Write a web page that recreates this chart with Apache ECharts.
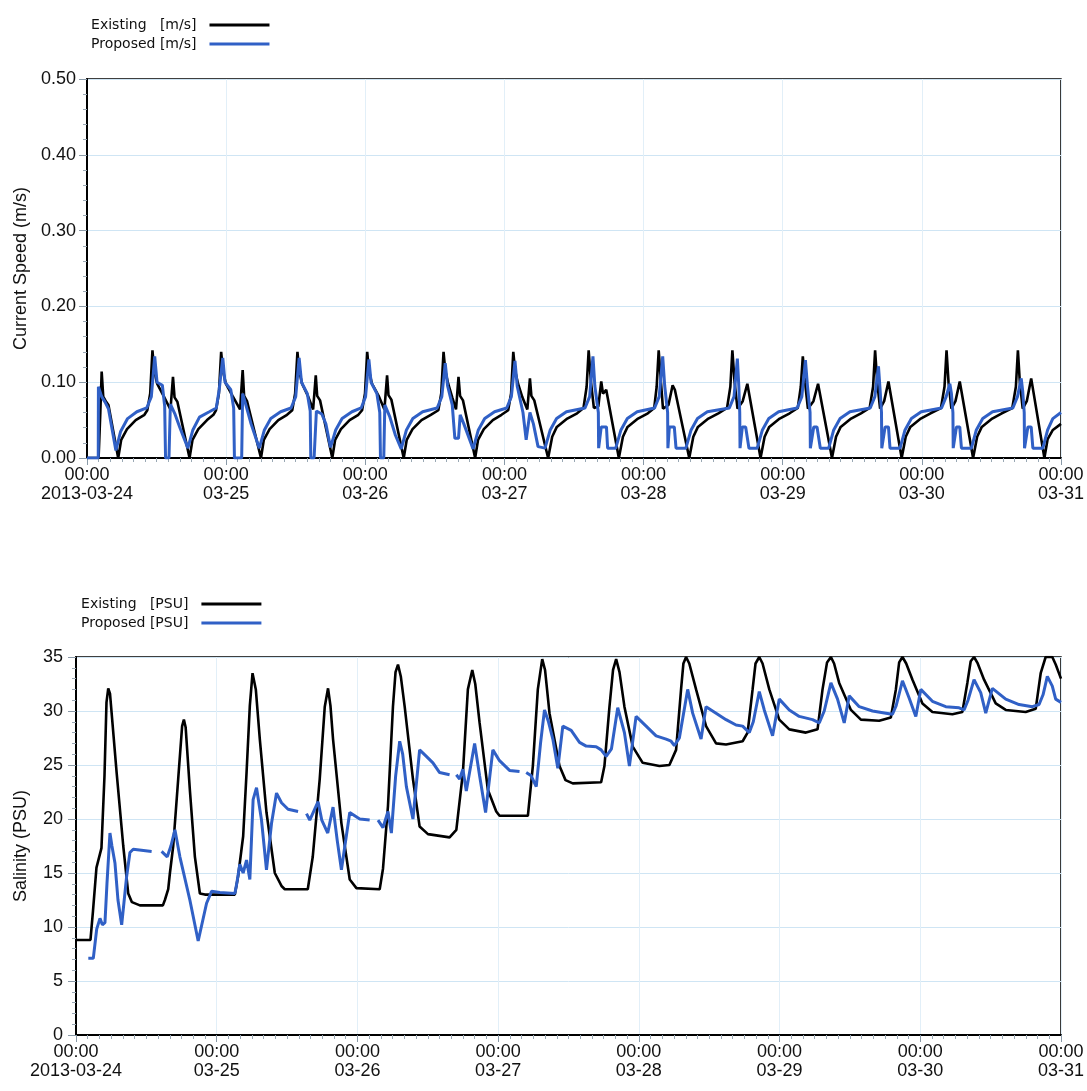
<!DOCTYPE html>
<html>
<head>
<meta charset="utf-8">
<title>Current speed and salinity, existing vs proposed</title>
<script src="https://cdn.jsdelivr.net/npm/echarts@6/dist/echarts.min.js"></script>
<style>
  html, body { margin: 0; padding: 0; background: #fff; }
  #chart { width: 1087px; height: 1091px; }
</style>
</head>
<body>
<div id="chart"></div>
<script>
// x values are hours after 2013-03-24 00:00
var dayLabels = ['2013-03-24', '03-25', '03-26', '03-27', '03-28', '03-29', '03-30', '03-31'];

var speedExisting = [
  [0,0],[2.0,0],[2.3,0.06],[2.53,0.114],[2.8,0.081],[3.3,0.074],[3.7,0.070],[5.38,0],
  [5.9,0.024],[6.9,0.038],[8.4,0.050],[9.9,0.057],[10.4,0.063],[10.9,0.085],[11.29,0.142],[11.6,0.115],[12.1,0.098],[13.2,0.082],[14.4,0.064],[14.83,0.107],[15.1,0.080],[15.6,0.074],[17.69,0],
  [18.2,0.024],[19.2,0.038],[20.7,0.050],[21.8,0.057],[22.25,0.063],[22.75,0.085],[23.14,0.140],[23.45,0.115],[23.95,0.098],[25.1,0.082],[26.4,0.064],[26.85,0.116],[27.1,0.082],[27.6,0.075],[30.01,0],
  [30.5,0.024],[31.5,0.038],[33.0,0.050],[34.5,0.057],[35.4,0.063],[35.9,0.085],[36.30,0.140],[36.6,0.115],[37.1,0.098],[38.1,0.082],[39.0,0.064],[39.46,0.109],[39.7,0.082],[40.2,0.076],[42.31,0],
  [42.8,0.024],[43.8,0.038],[45.3,0.050],[46.8,0.057],[47.45,0.063],[47.95,0.085],[48.33,0.140],[48.65,0.115],[49.15,0.098],[50.3,0.082],[51.3,0.064],[51.76,0.109],[52.0,0.083],[52.5,0.077],[54.63,0],
  [55.15,0.024],[56.15,0.038],[57.7,0.050],[59.3,0.057],[60.6,0.063],[61.1,0.085],[61.50,0.140],[61.8,0.115],[62.3,0.098],[63.0,0.080],[63.65,0.064],[64.08,0.107],[64.35,0.082],[64.85,0.076],[66.95,0],
  [67.45,0.024],[68.45,0.038],[70.0,0.050],[71.5,0.057],[72.65,0.063],[73.15,0.085],[73.53,0.140],[73.85,0.115],[74.35,0.098],[75.1,0.080],[75.95,0.064],[76.40,0.105],[76.65,0.082],[77.15,0.076],[79.54,0],
  [80.24,0.028],[81.04,0.041],[82.84,0.052],[84.54,0.059],[85.64,0.066],[86.18,0.094],[86.53,0.142],[86.93,0.100],[87.43,0.066],[88.2,0.068],[88.7,0.101],[89.0,0.085],[89.56,0.090],[91.74,0],
  [92.44,0.028],[93.24,0.041],[95.04,0.052],[96.74,0.059],[97.84,0.066],[98.26,0.094],[98.61,0.142],[99.0,0.100],[99.35,0.065],[100.3,0.070],[101.01,0.096],[101.4,0.090],[103.88,0],
  [104.58,0.028],[105.38,0.041],[107.18,0.052],[108.9,0.059],[110.4,0.066],[110.97,0.094],[111.32,0.142],[111.7,0.100],[112.2,0.065],[113.1,0.075],[113.90,0.098],[116.18,0],
  [116.88,0.028],[117.68,0.041],[119.48,0.052],[121.2,0.059],[122.6,0.066],[123.12,0.094],[123.47,0.134],[123.85,0.100],[124.35,0.065],[125.3,0.075],[126.10,0.098],[128.50,0],
  [129.2,0.028],[130.0,0.041],[131.8,0.052],[133.5,0.059],[135.0,0.066],[135.59,0.094],[135.94,0.142],[136.3,0.100],[136.8,0.065],[137.5,0.075],[138.24,0.101],[140.52,0],
  [141.22,0.028],[142.02,0.041],[143.82,0.052],[145.5,0.059],[147.3,0.066],[147.91,0.094],[148.26,0.142],[148.6,0.100],[149.1,0.065],[149.8,0.075],[150.54,0.101],[152.84,0],
  [153.54,0.028],[154.34,0.041],[156.14,0.052],[157.8,0.059],[159.6,0.066],[160.22,0.094],[160.57,0.142],[160.9,0.100],[161.4,0.065],[162.1,0.075],[162.86,0.105],[165.14,0],
  [165.7,0.025],[166.6,0.037],[168,0.045]
];

var speedProposed = [
  [0,0],[1.94,0],[1.97,0.094],[2.53,0.081],[3.1,0.074],[3.7,0.065],[4.98,0.010],
  [5.8,0.035],[7.0,0.052],[8.6,0.061],[10.3,0.066],[11.1,0.081],[11.68,0.134],
  [12.08,0.100],[13.0,0.096],[13.4,0.068],[13.55,0],[14.14,0],[14.38,0.071],[15.12,0.059],[15.98,0.041],[17.4,0.013],
  [18.26,0.037],[19.4,0.054],[21.1,0.061],[22.3,0.066],[22.8,0.090],[23.42,0.132],
  [23.8,0.100],[24.8,0.090],[25.3,0.066],[25.43,0],[26.68,0],[26.85,0.085],[27.4,0.070],[28.3,0.045],[29.72,0.013],
  [30.6,0.037],[31.7,0.052],[33.4,0.061],[35.2,0.066],[36.0,0.081],[36.59,0.132],
  [37.0,0.100],[38.0,0.085],[38.5,0.062],[38.6,0],[39.17,0],[39.57,0.062],[40.5,0.058],[41.2,0.045],[42.0,0.014],
  [42.9,0.037],[44.0,0.052],[45.7,0.061],[47.3,0.066],[48.05,0.081],[48.62,0.130],
  [49.0,0.100],[50.0,0.085],[50.5,0.060],[50.62,0],[51.19,0],[51.37,0.070],[52.2,0.055],[53.2,0.030],[54.2,0.012],
  [55.1,0.037],[56.2,0.052],[57.9,0.061],[60.4,0.066],[61.2,0.081],[61.79,0.125],
  [62.2,0.095],[63.0,0.070],[63.45,0.026],[64.08,0.026],[64.37,0.057],[65.0,0.045],[66.6,0.012],
  [67.5,0.037],[68.6,0.052],[70.3,0.061],[72.4,0.066],[73.2,0.081],[73.82,0.128],
  [74.2,0.095],[75.2,0.060],[75.75,0.024],[76.0,0.024],[76.4,0.060],[77.0,0.045],[77.8,0.015],[79.0,0.013],
  [79.9,0.037],[81.0,0.052],[82.7,0.061],[85.9,0.066],[86.7,0.081],[87.27,0.134],
  [87.6,0.095],[88.2,0.060],[88.25,0.013],[88.5,0.013],[88.7,0.041],[89.6,0.041],[89.8,0.013],[91.2,0.013],
  [92.1,0.037],[93.2,0.052],[94.9,0.061],[97.9,0.066],[98.7,0.081],[99.3,0.134],
  [99.65,0.095],[100.15,0.060],[100.2,0.013],[100.3,0.013],[100.45,0.041],[101.3,0.041],[101.6,0.013],[103.3,0.013],
  [104.2,0.037],[105.3,0.052],[107.0,0.061],[110.8,0.066],[111.6,0.081],[112.18,0.131],
  [112.43,0.095],[112.59,0.060],[112.64,0.013],[112.8,0.013],[113.04,0.041],[113.61,0.041],[114.18,0.013],[115.6,0.013],
  [116.5,0.037],[117.6,0.052],[119.3,0.061],[122.5,0.066],[123.3,0.081],[123.92,0.129],
  [124.27,0.095],[124.72,0.060],[124.77,0.013],[125.1,0.013],[125.35,0.041],[125.92,0.041],[126.49,0.013],[127.93,0.013],
  [128.8,0.037],[129.9,0.052],[131.6,0.061],[135.1,0.066],[135.9,0.081],[136.52,0.121],
  [136.8,0.090],[137.04,0.060],[137.09,0.013],[137.4,0.013],[137.66,0.041],[138.24,0.041],[138.51,0.013],[140.24,0.013],
  [141.1,0.037],[142.2,0.052],[143.9,0.061],[147.4,0.066],[148.2,0.081],[148.83,0.098],
  [149.1,0.085],[149.36,0.060],[149.41,0.013],[149.7,0.013],[149.97,0.041],[150.54,0.041],[150.83,0.013],[152.55,0.013],
  [153.4,0.037],[154.5,0.052],[156.2,0.061],[159.7,0.066],[160.5,0.081],[161.14,0.105],
  [161.4,0.088],[161.66,0.060],[161.71,0.013],[162.0,0.013],[162.29,0.041],[162.86,0.041],[163.15,0.013],[164.87,0.013],
  [165.7,0.037],[166.59,0.052],[168,0.060]
];

var salinityExisting = [
  [0,8.8],[2.47,8.8],[2.90,11.5],[3.49,15.5],[4.34,17.3],[4.86,24.0],[5.2,30.8],[5.50,32.1],[5.8,31.6],[6.93,24.3],[8.06,17.5],[8.91,13.1],[9.54,12.3],[10.90,12.0],[14.82,12.0],
  [15.16,12.5],[15.73,13.5],[16.02,15.0],[16.58,17.5],[17.43,23.7],[18.1,28.6],[18.40,29.2],[18.7,28.5],[19.42,22.7],[20.28,16.5],[21.13,13.1],[21.98,13.0],[27.09,13.0],
  [27.65,14.7],[28.23,17.2],[28.51,18.4],[29.09,24.3],[29.65,30.5],[30.11,33.5],[30.67,32.0],[31.35,27.4],[32.49,20.6],[33.91,15.0],[35.05,13.8],[35.61,13.5],[39.53,13.5],
  [40.38,16.5],[41.57,23.7],[42.43,30.4],[42.99,32.1],[43.4,30.5],[43.84,27.4],[45.27,19.6],[46.69,14.4],[47.83,13.6],[51.80,13.5],
  [52.36,15.4],[53.21,21.2],[54.06,30.4],[54.5,33.6],[54.92,34.3],[55.4,33.2],[56.06,30.4],[57.47,23.7],[58.61,19.3],[60.03,18.6],[63.72,18.3],
  [64.87,19.0],[65.99,24.3],[66.84,32.0],[67.59,33.8],[68.1,32.5],[68.84,28.9],[70.25,22.7],[71.68,20.7],[72.24,20.3],[77.07,20.3],
  [77.92,24.9],[78.77,32.0],[79.52,34.8],[80.0,33.8],[80.76,29.8],[82.47,24.9],[83.49,23.6],[84.73,23.3],[89.57,23.4],
  [90.13,24.9],[90.99,30.4],[91.6,33.8],[92.13,34.8],[92.7,33.6],[93.54,30.4],[94.96,26.7],[96.66,25.2],[99.51,24.9],[101.21,25.0],
  [102.35,26.4],[103.20,32.0],[103.6,34.4],[104.06,35],[104.6,34.4],[105.76,32.0],[107.46,28.6],[109.17,27.0],[110.87,26.9],[113.70,27.2],
  [114.55,28.0],[115.40,32.0],[115.9,34.4],[116.54,35],[117.1,34.4],[118.25,32.0],[119.95,29.2],[121.66,28.3],[124.50,28.0],[126.48,28.3],
  [127.33,32.0],[128.1,34.5],[128.76,35],[129.3,34.4],[130.17,32.6],[132.17,30.1],[133.87,29.2],[136.99,29.1],[138.98,29.4],
  [139.84,32.0],[140.4,34.5],[140.96,35],[141.6,34.4],[142.67,32.9],[144.37,30.7],[146.07,29.9],[149.48,29.7],[151.18,29.9],
  [152.03,32.6],[152.6,34.6],[153.17,35],[153.8,34.4],[154.88,32.9],[156.87,30.7],[158.58,30.1],[161.98,29.9],[163.69,30.2],
  [164.54,33.5],[165.39,35],[166.52,35],[167.10,34.3],[168,33.0]
];

var salinityProposed = [
  [2.10,7.1],[2.95,7.1],[3.53,9.8],[4.09,10.8],[4.5,10.2],[4.94,10.4],[5.28,14.0],[5.79,18.7],[6.13,17.5],[6.65,15.9],[7.16,12.5],[7.79,10.2],
  [8.64,14.7],[9.20,16.9],[9.76,17.2],[12.90,17.0],[13.7,null],[14.60,17.0],[15.56,16.5],[16.19,17.5],[16.87,19.0],[17.72,16.5],[19.42,12.5],[20.84,8.7],
  [22.27,12.2],[23.12,13.3],[24.54,13.2],[27.09,13.1],[27.38,13.9],[27.94,15.8],[28.51,15.0],[29.09,16.2],[29.65,14.4],[30.21,21.8],[30.79,22.9],
  [31.64,19.9],[32.49,15.3],[33.35,19.6],[34.20,22.4],[35.05,21.5],[36.17,20.9],[37.88,20.7],[38.6,null],[39.31,20.5],[39.87,19.9],[41.29,21.6],
  [41.92,19.9],[42.94,18.7],[43.84,21.1],[44.56,18.0],[45.27,15.3],[46.69,20.6],[48.39,20.0],[50.09,19.9],[50.8,null],[51.51,19.9],[52.36,19.2],
  [53.21,20.7],[53.79,18.7],[54.52,24.0],[55.21,27.2],[55.72,26.0],[56.35,23.0],[57.47,20.0],[58.61,26.4],[59.76,25.8],[60.88,25.2],[62.02,24.3],
  [63.72,24.1],[64.3,null],[64.87,24.1],[65.43,23.7],[65.99,24.6],[66.57,22.6],[67.99,27.0],[68.84,24.0],[69.86,20.6],[71.10,26.4],[72.24,25.4],
  [73.95,24.5],[75.65,24.4],[76.2,null],[76.79,24.3],[77.64,24.0],[78.50,23.0],[79.23,27.0],[79.91,30.1],[80.59,29.0],[81.33,27.4],[82.18,24.7],
  [83.03,28.6],[84.46,28.2],[85.88,27.1],[87.02,26.75],[88.72,26.7],[89.57,26.4],[90.42,25.8],[91.33,26.5],[92.40,30.3],[93.54,28.0],[94.39,24.9],
  [95.53,29.5],[97.24,28.6],[98.94,27.7],[100.65,27.4],[101.50,27.2],[102.06,26.8],[102.91,27.5],[104.33,32.0],[105.18,29.8],[106.61,27.4],
  [107.46,30.4],[109.17,29.8],[110.87,29.2],[112.58,28.7],[113.70,28.6],[114.84,28.0],[115.52,29.0],[116.54,31.8],[117.39,30.1],[118.81,27.7],
  [119.95,31.1],[121.66,30.1],[123.36,29.5],[125.63,29.2],[126.77,28.9],[127.62,30.0],[128.76,32.6],[129.89,31.1],[131.03,28.9],[131.88,31.4],
  [133.59,30.4],[135.85,30.0],[138.13,29.8],[139.26,29.7],[139.89,30.5],[140.96,32.8],[142.10,31.2],[143.24,29.5],[144.09,32.0],[146.07,30.9],
  [148.35,30.4],[150.62,30.3],[151.47,30.1],[152.15,31.0],[153.17,32.9],[154.31,31.7],[155.17,29.8],[156.29,32.1],[158.58,31.1],[160.85,30.6],
  [163.11,30.4],[164.26,30.6],[164.94,31.5],[165.67,33.2],[166.52,32.3],[167.10,31.1],[168,30.8]
];

var textColor = '#111';
var gridBlue = '#cfe5f4';
var blue = '#3060c6';
var labelFont = 'Liberation Sans';

function timeAxis(gridIndex) {
  return {
    type: 'value',
    gridIndex: gridIndex,
    min: 0,
    max: 168,
    interval: 24,
    axisLine: { lineStyle: { color: '#000', width: 2 } },
    axisTick: { show: true, length: 7, lineStyle: { color: '#8a9aa8' } },
    minorTick: { show: true, splitNumber: 12, length: 4, lineStyle: { color: '#9aa8b4' } },
    splitLine: { show: true, lineStyle: { color: '#e2eff8', width: 1 } },
    axisLabel: {
      color: textColor,
      fontFamily: labelFont,
      fontSize: 18,
      lineHeight: 19,
      margin: 8,
      showMinLabel: true,
      showMaxLabel: true,
      formatter: function (v) {
        return '00:00\n' + dayLabels[Math.round(v / 24)];
      }
    }
  };
}

var chart = echarts.init(document.getElementById('chart'));
chart.setOption({
  animation: false,
  backgroundColor: '#fff',
  grid: [
    { left: 87, top: 79, width: 977, height: 379, show: true, borderColor: '#000', borderWidth: 1.5, backgroundColor: 'transparent' },
    { left: 76, top: 657, width: 986, height: 378, show: true, borderColor: '#000', borderWidth: 1.5, backgroundColor: 'transparent' }
  ],
  legend: [
    {
      data: ['Existing   [m/s]', 'Proposed [m/s]'],
      orient: 'vertical', left: 86, top: 12, align: 'right',
      icon: 'rect', itemWidth: 60, itemHeight: 3, itemGap: 3,
      textStyle: { fontFamily: 'DejaVu Sans', fontSize: 14, color: textColor, lineHeight: 16, padding: [0, 8, 0, 0] }
    },
    {
      data: ['Existing   [PSU]', 'Proposed [PSU]'],
      orient: 'vertical', left: 76, top: 591, align: 'right',
      icon: 'rect', itemWidth: 60, itemHeight: 3, itemGap: 3,
      textStyle: { fontFamily: 'DejaVu Sans', fontSize: 14, color: textColor, lineHeight: 16, padding: [0, 8, 0, 0] }
    }
  ],
  xAxis: [timeAxis(0), timeAxis(1)],
  yAxis: [
    {
      type: 'value', gridIndex: 0, min: 0, max: 0.5, interval: 0.1,
      name: 'Current Speed (m/s)', nameLocation: 'middle', nameGap: 57, nameRotate: 90,
      nameTextStyle: { fontFamily: labelFont, fontSize: 18, color: textColor },
      axisLine: { show: true, lineStyle: { color: '#000', width: 2 } },
      axisTick: { show: true, length: 8, lineStyle: { color: '#8a9aa8' } },
      minorTick: { show: true, splitNumber: 5, length: 4, lineStyle: { color: '#9aa8b4' } },
      splitLine: { show: true, lineStyle: { color: gridBlue, width: 1 } },
      axisLabel: { color: textColor, fontFamily: labelFont, fontSize: 18, margin: 11,
        formatter: function (v) { return v.toFixed(2); } }
    },
    {
      type: 'value', gridIndex: 1, min: 0, max: 35, interval: 5,
      name: 'Salinity (PSU)', nameLocation: 'middle', nameGap: 46, nameRotate: 90,
      nameTextStyle: { fontFamily: labelFont, fontSize: 18, color: textColor },
      axisLine: { show: true, lineStyle: { color: '#000', width: 2 } },
      axisTick: { show: true, length: 8, lineStyle: { color: '#8a9aa8' } },
      minorTick: { show: true, splitNumber: 5, length: 4, lineStyle: { color: '#9aa8b4' } },
      splitLine: { show: true, lineStyle: { color: gridBlue, width: 1 } },
      axisLabel: { color: textColor, fontFamily: labelFont, fontSize: 18, margin: 13 }
    }
  ],
  series: [
    { name: 'Existing   [m/s]', type: 'line', xAxisIndex: 0, yAxisIndex: 0, data: speedExisting,
      showSymbol: false, connectNulls: false, itemStyle: { color: '#000' }, lineStyle: { color: '#000', width: 2.6 }, z: 2 },
    { name: 'Proposed [m/s]', type: 'line', xAxisIndex: 0, yAxisIndex: 0, data: speedProposed,
      showSymbol: false, connectNulls: false, itemStyle: { color: blue }, lineStyle: { color: blue, width: 3 }, z: 3 },
    { name: 'Existing   [PSU]', type: 'line', xAxisIndex: 1, yAxisIndex: 1, data: salinityExisting,
      showSymbol: false, connectNulls: false, itemStyle: { color: '#000' }, lineStyle: { color: '#000', width: 2.6 }, z: 2 },
    { name: 'Proposed [PSU]', type: 'line', xAxisIndex: 1, yAxisIndex: 1, data: salinityProposed,
      showSymbol: false, connectNulls: false, itemStyle: { color: blue }, lineStyle: { color: blue, width: 3 }, z: 3 }
  ]
});
</script>
</body>
</html>
